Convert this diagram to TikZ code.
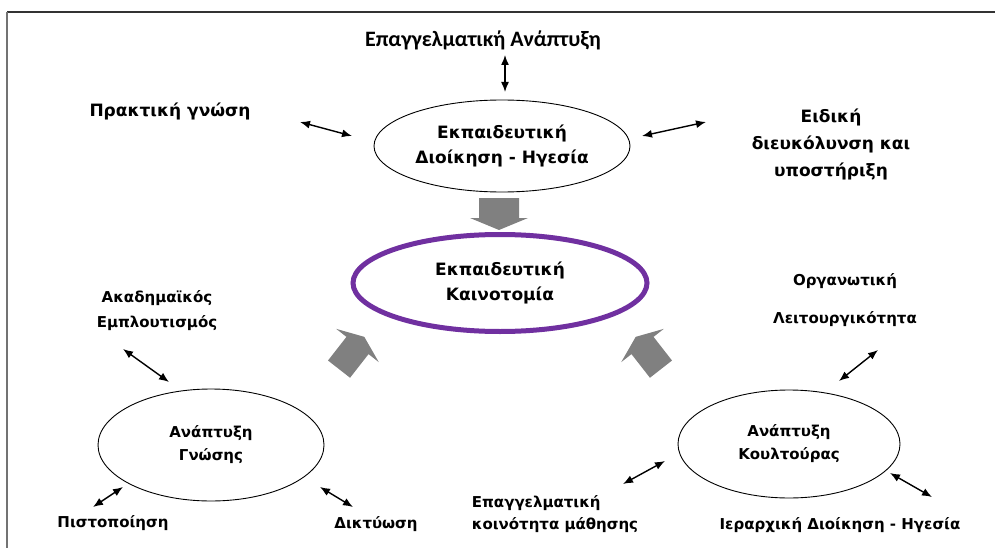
\documentclass[tikz,border=0pt]{standalone}
\usepackage{fontspec}
\setmainfont{DejaVu Sans}
\newfontfamily\calfont{Carlito}
\usetikzlibrary{shapes.geometric,arrows.meta}
\definecolor{kpurple}{RGB}{112,48,160}
\definecolor{kgray}{RGB}{128,128,128}
\newcommand{\blockarrow}[6]{%
  \fill[kgray,shift={#1},rotate=#2] (-#3,-#4) -- (0,-#4) -- (0,-#5) -- (#6,0) -- (0,#5) -- (0,#4) -- (-#3,#4) -- cycle;}
\begin{document}
\begin{tikzpicture}[x=1pt,y=-1pt,
    lbl/.style={font=\fontsize{15}{23}\selectfont\bfseries,align=center,inner sep=0pt},
    big/.style={lbl,font=\fontsize{17}{25}\selectfont\bfseries},
    ring/.style={ellipse,draw,line width=0.9pt,inner sep=0pt},
    dbl/.style={{Latex[length=10pt,width=8pt]}-{Latex[length=10pt,width=8pt]},line width=1.4pt}]
  \useasboundingbox (0,0) rectangle (995,548);
  \draw[line width=1.3pt,black!80] (7,12) -- (995,12);
  \draw[line width=2.5pt,black!55] (7,12) -- (7,548);

  % ellipses
  \node[ring,minimum width=256,minimum height=92,big] (edl) at (502,146) {Εκπαιδευτική\\Διοίκηση - Ηγεσία};
  \node[ring,draw=kpurple,line width=5pt,minimum width=294,minimum height=97,big] (eki) at (500,283) {Εκπαιδευτική\\Καινοτομία};
  \node[ring,minimum width=226,minimum height=112,lbl] (agn) at (211,445) {Ανάπτυξη\\Γνώσης};
  \node[ring,minimum width=222,minimum height=108,lbl] (akl) at (789,444) {Ανάπτυξη\\Κουλτούρας};

  % labels
  \node[lbl,font=\calfont\fontsize{22}{24}\selectfont\bfseries] (epa) at (483,40) {Επαγγελματική Ανάπτυξη};
  \node[big] (prg) at (170,111) {Πρακτική γνώση};
  \node[big,font=\fontsize{17}{27}\selectfont\bfseries] (eid) at (831,144) {Ειδική\\διευκόλυνση και\\υποστήριξη};
  \node[lbl,font=\fontsize{15}{25}\selectfont\bfseries] (aka) at (157,311) {Ακαδημαϊκός\\Εμπλουτισμός};
  \node[lbl] (pis) at (113,523) {Πιστοποίηση};
  \node[lbl] (dik) at (376,524) {Δικτύωση};
  \node[lbl,font=\fontsize{15}{38}\selectfont\bfseries] (org) at (845,300) {Οργανωτική\\Λειτουργικότητα};
  \node[lbl,align=left,font=\fontsize{15}{22}\selectfont\bfseries] (koi) at (555,514) {Επαγγελματική\\κοινότητα μάθησης};
  \node[lbl] (ier) at (840,525) {Ιεραρχική Διοίκηση - Ηγεσία};

  % arrow ends
  \coordinate (a1) at (505,55);  \coordinate (b1) at (505,92);
  \coordinate (a2) at (300,122); \coordinate (b2) at (352,136);
  \coordinate (a3) at (642,136); \coordinate (b3) at (706,122);
  \coordinate (a4) at (123,349); \coordinate (b4) at (169,382);
  \coordinate (a5) at (93,507);  \coordinate (b5) at (123,487);
  \coordinate (a6) at (320,487); \coordinate (b6) at (353,507);
  \coordinate (a7) at (839,381); \coordinate (b7) at (878,350);
  \coordinate (a8) at (623,484); \coordinate (b8) at (665,461);
  \coordinate (a9) at (890,473); \coordinate (b9) at (932,497);
  \foreach \i in {1,...,9}
    \draw[dbl] (a\i) -- (b\i);

  % block arrows
  \blockarrow{(499,218)}{-90}{20}{20}{29}{12}
  \blockarrow{(357.5,345.5)}{52}{30}{14}{27}{11}
  \blockarrow{(642.5,345.5)}{128}{30}{14}{27}{11}
\end{tikzpicture}
\end{document}
